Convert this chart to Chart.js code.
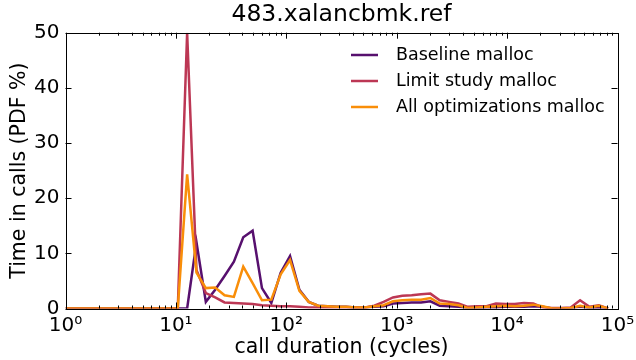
<!DOCTYPE html>
<html>
<head>
<meta charset="utf-8">
<script src="https://cdn.jsdelivr.net/npm/chart.js@4/dist/chart.umd.min.js"></script>
<style>
  html, body { margin: 0; padding: 0; background: #fff; }
  #grafico { display: block; }
</style>
</head>
<body>
<canvas id="grafico" width="636" height="360"></canvas>
<script>
// posições dos bins (ciclos), espaçados em log de 10^0 a 10^5
var bins = [1, 1.215, 1.477, 1.796, 2.183, 2.653, 3.225, 3.92, 4.764, 5.79,
  7.038, 8.554, 10.4, 12.64, 15.36, 18.67, 22.69, 27.58, 33.52, 40.75,
  49.53, 60.2, 73.16, 88.95, 108.1, 131.4, 159.7, 194.1, 236, 286.8,
  348.6, 423.8, 515, 626.1, 761, 925, 1124, 1367, 1661, 2019,
  2454, 2983, 3626, 4407, 5357, 6512, 7915, 9621, 11690, 14210,
  17280, 20990, 25520, 31020, 37700, 45820, 55700, 67710, 82300];

var baseline = [0, 0, 0, 0, 0, 0, 0, 0, 0, 0,
  0, 0, 0, 0, 12.0, 1.2, 3.4, 5.9, 8.5, 12.9,
  14.1, 3.7, 1.0, 6.5, 9.5, 3.4, 1.2, 0.5, 0.4, 0.3,
  0.3, 0.2, 0.2, 0.3, 0.4, 0.9, 1.0, 1.1, 1.1, 1.3,
  0.5, 0.4, 0.3, 0.1, 0.1, 0.2, 0.2, 0.3, 0.3, 0.3,
  0.4, 0.3, 0, 0, 0.1, 0.3, 0.1, 0.2, 0];

var limitStudy = [0, 0, 0, 0, 0, 0, 0, 0, 0, 0,
  0, 0, 0, 50, 7.0, 2.8, 2.0, 1.1, 1.0, 0.9,
  0.8, 0.6, 0.5, 0.4, 0.4, 0.3, 0.2, 0.2, 0.2, 0.2,
  0.2, 0.2, 0.2, 0.5, 1.2, 2.0, 2.3, 2.4, 2.6, 2.7,
  1.5, 1.2, 0.9, 0.3, 0.4, 0.4, 0.9, 0.8, 0.8, 1.0,
  0.9, 0.2, 0.1, 0.1, 0.2, 1.5, 0.3, 0.6, 0];

var allOpt = [0, 0, 0, 0, 0, 0, 0, 0, 0, 0,
  0, 0, 0, 24.3, 6.5, 3.7, 3.8, 2.4, 2.1, 7.6,
  4.6, 1.5, 1.6, 6.2, 8.8, 3.2, 1.2, 0.5, 0.4, 0.3,
  0.3, 0.2, 0.2, 0.4, 0.6, 1.3, 1.5, 1.6, 1.6, 1.9,
  0.9, 0.8, 0.6, 0.1, 0.2, 0.3, 0.4, 0.5, 0.4, 0.5,
  0.7, 0.4, 0, 0, 0.1, 0.5, 0.2, 0.5, 0];

var seriesNames = ['Baseline malloc', 'Limit study malloc', 'All optimizations malloc'];
var xTicks = [1, 10, 100, 1000, 10000, 100000];
var yTicks = [0, 10, 20, 30, 40, 50];

var cores = ['#57106e', '#bc3754', '#f98e09'];
var sup = { '0': '\u2070', '1': '\u00b9', '2': '\u00b2', '3': '\u00b3', '4': '\u2074', '5': '\u2075' };
var fonte = '"DejaVu Sans", sans-serif';

function pontos(vals) {
  return bins.map(function (b, i) { return { x: b, y: vals[i] }; });
}

// moldura, ticks para dentro e legenda dentro do gráfico
var molduraPlugin = {
  id: 'moldura',
  afterDraw: function (chart) {
    var c = chart.ctx, a = chart.chartArea;
    var sx = chart.scales.x, sy = chart.scales.y;
    c.save();
    c.strokeStyle = '#000';
    c.lineWidth = 1;
    c.beginPath();
    // ticks do eixo x (maiores e menores), embaixo e em cima
    for (var e = 0; e < 5; e++) {
      for (var m = 1; m < 10; m++) {
        var v = m * Math.pow(10, e);
        var px = Math.round(sx.getPixelForValue(v)) + 0.5;
        var len = m === 1 ? 6 : 3;
        c.moveTo(px, a.bottom); c.lineTo(px, a.bottom - len);
        c.moveTo(px, a.top); c.lineTo(px, a.top + len);
      }
    }
    yTicks.forEach(function (t) {
      var py = Math.round(sy.getPixelForValue(t)) + 0.5;
      c.moveTo(a.left, py); c.lineTo(a.left + 6, py);
      c.moveTo(a.right, py); c.lineTo(a.right - 6, py);
    });
    c.stroke();
    c.strokeRect(Math.round(a.left) + 0.5, Math.round(a.top) + 0.5,
      Math.round(a.right - a.left), Math.round(a.bottom - a.top));

    // legenda
    c.font = '17.5px ' + fonte;
    c.textBaseline = 'middle';
    c.fillStyle = '#000';
    chart.data.datasets.forEach(function (ds, i) {
      var y = 55 + i * 26;
      c.strokeStyle = ds.borderColor;
      c.lineWidth = 2.5;
      c.beginPath();
      c.moveTo(351, y); c.lineTo(378, y);
      c.stroke();
      c.fillText(ds.label, 396, y);
    });
    c.restore();
  }
};

var ctx = document.getElementById('grafico').getContext('2d');
var grafico = new Chart(ctx, {
  type: 'line',
  data: {
    datasets: [0, 1, 2].map(function (i) {
      return {
        label: seriesNames[i],
        data: pontos([baseline, limitStudy, allOpt][i]),
        borderColor: cores[i],
        backgroundColor: cores[i],
        borderWidth: 2.5,
        pointRadius: 0,
        tension: 0,
        fill: false,
        order: 3 - i
      };
    })
  },
  options: {
    responsive: false,
    animation: false,
    layout: { padding: { left: 0, right: 18.5, top: 0, bottom: 0 } },
    plugins: {
      legend: { display: false },
      tooltip: { enabled: false },
      title: {
        display: true,
        fullSize: false,
        text: '483.xalancbmk.ref',
        color: '#000',
        font: { family: fonte, size: 23.5, weight: 'normal' },
        padding: { top: 1, bottom: 3.5 }
      }
    },
    scales: {
      x: {
        type: 'logarithmic',
        min: 1,
        max: 100000,
        afterBuildTicks: function (s) { s.ticks = xTicks.map(function (v) { return { value: v }; }); },
        afterFit: function (s) { s.height = 51.5; s.paddingLeft = 0; s.paddingRight = 0; },
        grid: { display: false, drawTicks: false },
        border: { display: false },
        ticks: {
          autoSkip: false,
          maxRotation: 0,
          color: '#000',
          padding: 5,
          font: { family: fonte, size: 20 },
          callback: function (v) { return '10' + sup[String(Math.round(Math.log10(v)))]; }
        },
        title: {
          display: true,
          text: 'call duration (cycles)',
          color: '#000',
          font: { family: fonte, size: 20.5 },
          padding: { top: 0, bottom: 0 }
        }
      },
      y: {
        min: 0,
        max: 50,
        afterBuildTicks: function (s) { s.ticks = yTicks.map(function (v) { return { value: v }; }); },
        afterFit: function (s) { s.width = 65.5; s.paddingTop = 0; s.paddingBottom = 0; },
        grid: { display: false, drawTicks: false },
        border: { display: false },
        ticks: {
          color: '#000',
          padding: 6,
          font: { family: fonte, size: 20 }
        },
        title: {
          display: true,
          text: 'Time in calls (PDF %)',
          color: '#000',
          font: { family: fonte, size: 20.5 },
          padding: { top: 7, bottom: 0 }
        }
      }
    }
  },
  plugins: [molduraPlugin]
});
</script>
</body>
</html>
